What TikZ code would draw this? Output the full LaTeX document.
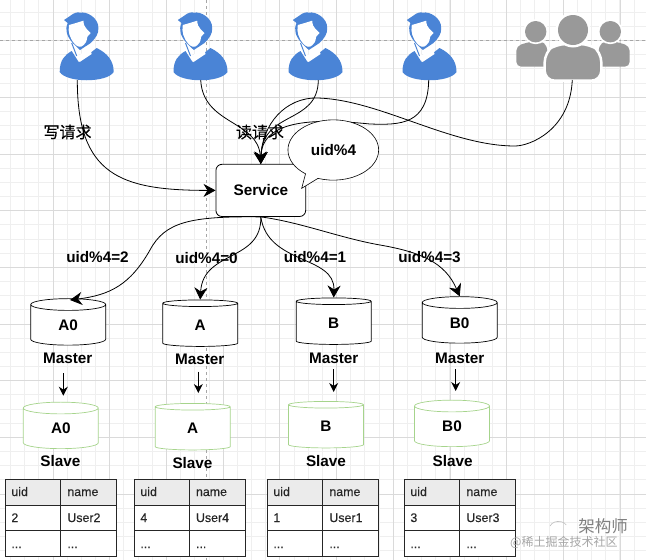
\documentclass[tikz,border=0pt]{standalone}
\usepackage{fontspec}
\setmainfont{Liberation Sans}
\newfontfamily\cjk[FakeBold=0.35]{Noto Sans CJK SC}
\newfontfamily\cjklight{Noto Sans CJK SC}
\newfontfamily\cellfont[FakeBold=0.3]{Liberation Sans}
\usetikzlibrary{arrows.meta,shapes.geometric,shapes.callouts}
\definecolor{userblue}{HTML}{4A84D6}
\definecolor{crowdgray}{HTML}{999999}
\definecolor{slavegreen}{HTML}{A6D48C}
\definecolor{gridminor}{HTML}{EFEFEF}
\definecolor{gridmajor}{HTML}{DADADA}
\newcommand{\dbtxt}[1]{\raisebox{-4.5pt}{#1}}
\tikzset{
    lbl/.style={font=\bfseries\fontsize{15.3}{17}\selectfont,inner sep=0},
    cjklbl/.style={font=\cjk\fontsize{16}{18}\selectfont,inner sep=0},
    celltxt/.style={font=\cellfont\fontsize{12.4}{14}\selectfont,text=black!85,inner sep=0,anchor=base west},
    conn/.style={->,line width=0.8pt,>={Stealth[length=12pt,width=13pt]}},
    shortconn/.style={->,line width=0.9pt,>={Stealth[length=9pt,width=9pt]}},
    dbcyl/.style={draw,fill=white,cylinder,shape border rotate=90,aspect=0.6,minimum width=75,minimum height=46.5,inner sep=0,line width=0.7pt,font=\bfseries\fontsize{15.3}{17}\selectfont},
    person/.pic={
        \fill[userblue] (-27,72) .. controls (-27,60) and (-22,55) .. (-15,51) -- (-8,62) -- (10,48) .. controls (20,53) and (27,60) .. (27,72) .. controls (20,83) and (-20,83) .. (-27,72) -- cycle;
        \fill[white] (-13,52) -- (-7,62) -- (5,54) -- (3,47) -- (-7,55) -- cycle;
        \fill[userblue] (-22.7,20) -- (-16.7,16) .. controls (-12,12) and (-8,12) .. (-6.7,12.7) .. controls (0,11) and (12,18) .. (11.7,28) .. controls (12,34) and (9,38) .. (4,43) -- (-6.7,50) -- (-14,43) .. controls (-20,36) and (-22,30) .. (-19,23) -- cycle;
        \fill[white] (-17.7,25) -- (-11.7,23.3) -- (-3.3,20.7) .. controls (-3,25) and (-2,27) .. (0,29) -- (4,33) -- (.7,36.7) .. controls (0,41) and (-1,44) .. (-3,45) .. controls (-6,48) and (-9,47) .. (-12,44) .. controls (-17,38) and (-19,32) .. (-17.7,25) -- cycle;
        \draw[userblue,line width=1pt] (-15,43) -- (-10,56);
    }
}
\begin{document}
\begin{tikzpicture}[x=1pt,y=-1pt]
    \useasboundingbox (0,0) rectangle (646,560);
    \fill[white] (0,0) rectangle (646,560);
    \foreach \k in {0,...,46}
    \draw[gridminor,line width=0.7pt] ({-3.7+14.17*\k},0)--({-3.7+14.17*\k},560);
    \foreach \k in {-2,...,37}
    \draw[gridminor,line width=0.7pt] (0,{40.5+14.17*\k})--(646,{40.5+14.17*\k});
    \foreach \k in {0,...,11}
    \draw[gridmajor,line width=0.8pt] ({-3.7+56.7*\k},0)--({-3.7+56.7*\k},560);
    \foreach \k in {0,...,9}
    \draw[gridmajor,line width=0.8pt] (0,{40.5+56.7*\k-56.7})--(646,{40.5+56.7*\k-56.7});
    \draw[dashed,black!35,line width=0.7pt] (0,40.5)--(646,40.5);
    \draw[dashed,black!35,line width=0.7pt] (206.7,0)--(206.7,560);

    \pic at (86.7,0) {person};
    \pic at (200.5,0) {person};
    \pic at (315.5,0) {person};
    \pic at (429.5,0) {person};
    \fill[crowdgray,rounded corners=5pt] (516.3,66.7)--(516.3,46)--(530,41.7)--(545,41.7)--(552,66.7)--cycle;
    \fill[crowdgray,rounded corners=5pt] (629.7,66.7)--(629.7,46)--(616,41.7)--(601,41.7)--(594,66.7)--cycle;
    \fill[white] (535.7,31.7) circle [radius=12.5];
    \fill[white] (610.3,31.7) circle [radius=12.5];
    \fill[crowdgray] (535.7,31.7) circle [radius=10.7];
    \fill[crowdgray] (610.3,31.7) circle [radius=10.7];
    \draw[white,line width=2.5pt,fill=crowdgray,rounded corners=10pt] (544.7,80.7)--(544.7,52)--(556,44)--(590,44)--(601.3,52)--(601.3,80.7)--cycle;
    \fill[white] (573,30) circle [radius=17.5];
    \fill[crowdgray] (573,30) circle [radius=15];

    \coordinate (u1) at (77.3,80);
    \coordinate (u2) at (200.7,80);
    \coordinate (u3) at (318.3,80);
    \coordinate (u4) at (428.7,80);
    \coordinate (crowd) at (572.3,80);

    \node (service) [draw,fill=white,rounded corners=6pt,minimum width=89.7,minimum height=52.2,inner sep=0,line width=0.8pt] at (260.8,190.4) {\bfseries\fontsize{15.3}{17}\selectfont Service};

    \node (mA0) [dbcyl] at (68.2,325) {\dbtxt{A0}};
    \node (mA) [dbcyl] at (200.2,325) {\dbtxt{A}};
    \node (mB) [dbcyl] at (333.7,323) {\dbtxt{B}};
    \node (mB0) [dbcyl] at (459.7,323) {\dbtxt{B0}};
    \node (sA0) [dbcyl,draw=slavegreen] at (60.8,428.5) {\dbtxt{A0}};
    \node (sA) [dbcyl,draw=slavegreen] at (192.7,428.5) {\dbtxt{A}};
    \node (sB) [dbcyl,draw=slavegreen] at (326,426.5) {\dbtxt{B}};
    \node (sB0) [dbcyl,draw=slavegreen] at (452,426.5) {\dbtxt{B0}};

    \draw[conn] (u1) .. controls (77.3,175) and (120,190.4) .. (service.west);
    \draw[conn] (u2) .. controls (203,125) and (258,120) .. (service.north);
    \draw[conn] (u3) .. controls (318,125) and (262,110) .. (service.north);
    \draw[conn] (u4) .. controls (428,125) and (400,125) .. (370,124) .. controls (330,120) and (262,115) .. (service.north);
    \draw[conn] (crowd) .. controls (570,130) and (530,146) .. (515,146) .. controls (450,146) and (380,100) .. (318,98) .. controls (285,97) and (262,125) .. (service.north);

    \draw[conn] (service.south) .. controls (190,216) and (165,222) .. (150,250) .. controls (130,285) and (110,295) .. (70,300);
    \draw[conn] (service.south) .. controls (262,262) and (203,250) .. (mA.north);
    \draw[conn] (service.south) .. controls (268,265) and (335,255) .. (mB.north);
    \draw[conn] (service.south) .. controls (300,222) and (340,238) .. (380,245) .. controls (420,252) and (445,262) .. (mB0.north);

    \node (callout) [draw,fill=white,ellipse callout,minimum width=90.7,minimum height=60.3,inner sep=0,line width=0.6pt,callout absolute pointer={(301.7,188.3)},callout pointer arc=18] at (333.3,150) {};
    \node (mod) [lbl] at (333.5,150.5) {uid\%4};

    \node (write) [cjklbl] at (67.5,132) {写请求};
    \node (read) [cjklbl] at (260,132) {读请求};
    \node (r2) [lbl] at (97.5,257.3) {uid\%4=2};
    \node (r0) [lbl] at (206.5,258.3) {uid\%4=0};
    \node (r1) [lbl] at (315,257.3) {uid\%4=1};
    \node (r3) [lbl] at (429.5,257.3) {uid\%4=3};

    \foreach \n/\x/\y in {A0/67.7/358,A/199.7/359,B/333.7/358,B0/459.7/358}
    \node (lm\n) [lbl] at (\x,\y) {Master};
    \foreach \n/\x/\y in {A0/60.3/461.5,A/192.5/463.3,B/326/461.5,B0/452.7/461.5}
    \node (ls\n) [lbl] at (\x,\y) {Slave};

    \foreach \n/\x/\ya/\yb in {A0/63.3/373/395.7,A/198.3/371.7/393,B/333.7/369.3/392,B0/455.7/369/391}
    {
    \coordinate (from\n) at (\x,\ya);
    \coordinate (to\n) at (\x,\yb);
    \draw[shortconn] (from\n)--(to\n);
    }

    \foreach \xa/\xb/\xc/\id/\who in {5.7/60.7/116.7/2/User2,134.7/189.3/245.7/4/User4,267.7/322.7/378.7/1/User1,404.7/459.7/515.7/3/User3}
    {
    \fill[white] (\xa,479.3) rectangle (\xc,556.3);
    \fill[black!8] (\xa,479.3) rectangle (\xc,505.3);
    \draw[line width=0.8pt,black!85] (\xa,479.3) rectangle (\xc,556.3);
    \draw[line width=0.8pt,black!85] (\xb,479.3)--(\xb,556.3);
    \draw[line width=0.8pt,black!85] (\xa,505.3)--(\xc,505.3);
    \draw[line width=0.8pt,black!85] (\xa,530.3)--(\xc,530.3);
    \node (h\id) [celltxt] at (\xa+5.5,496) {uid};
    \node (n\id) [celltxt] at (\xb+6.5,496) {name};
    \node (i\id) [celltxt] at (\xa+5.5,522) {\id};
    \node (w\id) [celltxt] at (\xb+6.5,522) {\who};
    \node (d\id) [celltxt] at (\xa+5.5,548) {...};
    \node (e\id) [celltxt] at (\xb+6.5,548) {...};
    }

    \node (wmtext) [font=\cjklight\fontsize{12}{14}\selectfont,text=black!35,inner sep=0,anchor=west] at (510,542) {@稀土掘金技术社区};
    \draw[black!25,line width=0.6pt] (550,526) arc [start angle=200,end angle=330,x radius=9,y radius=7];
    \node (wmname) [font=\cjklight\fontsize{16.5}{18}\selectfont,text=black!50,inner sep=0] at (603,526) {架构师};
\end{tikzpicture}
\end{document}
